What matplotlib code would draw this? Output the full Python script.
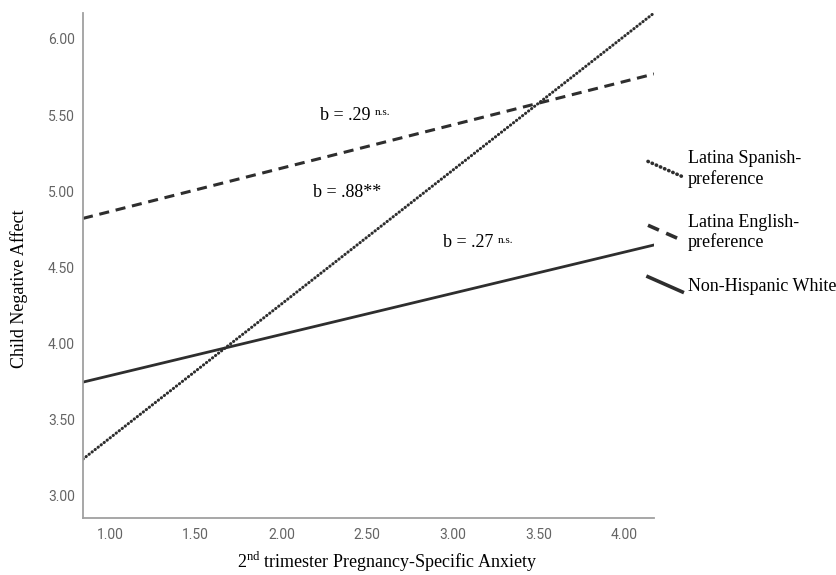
import matplotlib
matplotlib.use("Agg")
import matplotlib.pyplot as plt
from matplotlib.legend_handler import HandlerBase
from matplotlib.lines import Line2D

plt.rcParams["mathtext.fontset"] = "custom"
plt.rcParams["mathtext.rm"] = "Liberation Serif"

# simple slopes: x range of the predictor, predicted y at both ends
X_RANGE = [0.842, 4.175]
SPANISH = [3.237, 6.171]
ENGLISH = [4.82, 5.77]
WHITE = [3.743, 4.645]

GROUPS = ["Latina Spanish-\npreference", "Latina English-\npreference", "Non-Hispanic White"]
SLOPE_TEXT = ["b = .29 ", "b = .88**", "b = .27 "]
SLOPE_SIG = ["n.s.", "", "n.s."]
SLOPE_POS = [(2.226, 5.50), (2.185, 4.99), (2.944, 4.66)]

X_TICKS = [1.0, 1.5, 2.0, 2.5, 3.0, 3.5, 4.0]
Y_TICKS = [3.0, 3.5, 4.0, 4.5, 5.0, 5.5, 6.0]

SERIF = "Liberation Serif"
TICK_FONT = ["Roboto", "DejaVu Sans"]
LINE_COL = "#2e2e2e"


class SlantHandler(HandlerBase):
    """Short slanted legend key, like the SPSS output."""

    def create_artists(self, legend, orig_handle, xdescent, ydescent,
                       width, height, fontsize, trans):
        mid = -ydescent + height / 2
        line = Line2D([-xdescent, -xdescent + width],
                      [mid + 0.42 * fontsize, mid - 0.42 * fontsize])
        self.update_prop(line, orig_handle, legend)
        line.set_transform(trans)
        return [line]


fig = plt.figure(figsize=(8.37, 5.75), dpi=100)
ax = fig.add_axes([0.0992, 0.0991, 0.6822, 0.8783])

h1, = ax.plot(X_RANGE, SPANISH, color=LINE_COL, lw=2.2,
              linestyle=(0, (0.1, 1.15)), dash_capstyle="round")
h2, = ax.plot(X_RANGE, ENGLISH, color=LINE_COL, lw=2.2,
              linestyle=(0, (3.3, 2.2)))
h3, = ax.plot(X_RANGE, WHITE, color=LINE_COL, lw=2.0)

for txt, sig, (tx, ty) in zip(SLOPE_TEXT, SLOPE_SIG, SLOPE_POS):
    t = ax.text(tx, ty, txt, ha="left", va="center", fontsize=13,
                family=SERIF, color="black")
    if sig:
        ax.annotate(sig, xy=(1, 1), xycoords=t, xytext=(0, -1),
                    textcoords="offset points", ha="left", va="top",
                    fontsize=8, family=SERIF)

ax.set_xlim(X_RANGE)
ax.set_ylim(2.849, 6.171)
ax.set_xticks(X_TICKS)
ax.set_yticks(Y_TICKS)
ax.set_xticklabels([f"{v:.2f}" for v in X_TICKS])
ax.set_yticklabels([f"{v:.2f}" for v in Y_TICKS])
ax.tick_params(length=0, labelsize=10, labelcolor="#646464")
for lab in ax.get_xticklabels() + ax.get_yticklabels():
    lab.set_family(TICK_FONT)
ax.tick_params(axis="x", pad=7)
ax.tick_params(axis="y", pad=6)

for side in ["top", "right"]:
    ax.spines[side].set_visible(False)
for side in ["left", "bottom"]:
    ax.spines[side].set_color("#a0a0a0")
    ax.spines[side].set_linewidth(1.3)

ax.set_xlabel(r"2$^{\mathrm{nd}}$ trimester Pregnancy-Specific Anxiety",
              fontsize=13, family=SERIF)
ax.xaxis.set_label_coords(0.532, -0.063)
ax.set_ylabel("Child Negative Affect", fontsize=13, family=SERIF)
ax.yaxis.set_label_coords(-0.097, 0.455)

leg = fig.legend([h1, h2, h3], GROUPS, loc="upper left",
                 bbox_to_anchor=(648 / 837, 1 - 150 / 575),
                 frameon=False, borderpad=0, borderaxespad=0,
                 handlelength=1.9, handletextpad=0.3, labelspacing=1.45,
                 prop={"family": SERIF, "size": 13},
                 handler_map={Line2D: SlantHandler()})
for line in leg.get_lines():
    line.set_linewidth(2.6)

fig.savefig("out.png", dpi=100)
